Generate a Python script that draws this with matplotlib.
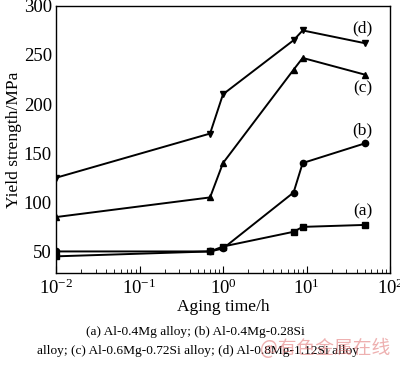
import matplotlib
matplotlib.use('Agg')
import matplotlib.pyplot as plt
from matplotlib.ticker import LogLocator, NullFormatter

plt.rcParams['font.family'] = ['Liberation Serif', 'DejaVu Serif']
plt.rcParams['mathtext.fontset'] = 'stix'

# ---------- Data ----------
t_a = [0.01, 0.7, 1.0, 7, 9, 50]
ys_a = [45, 50, 55, 70, 75, 77]

t_b = [0.01, 0.7, 1.0, 7, 9, 50]
ys_b = [50, 50, 53, 110, 140, 160]

t_c = [0.01, 0.7, 1.0, 7, 9, 50]
ys_c = [85, 105, 140, 235, 247, 230]

t_d = [0.01, 0.7, 1.0, 7, 9, 50]
ys_d = [125, 170, 210, 265, 275, 262]

series = [
    ('(a)', t_a, ys_a, 's', 91),
    ('(b)', t_b, ys_b, 'o', 173),
    ('(c)', t_c, ys_c, '^', 216),
    ('(d)', t_d, ys_d, 'v', 277),
]

fig = plt.figure(figsize=(4.0, 3.67), dpi=100)
ax = fig.add_axes([0.14, 0.256, 0.835, 0.728])

for tag, t, ys, mk, label_y in series:
    ax.plot(t, ys, color='black', linewidth=1.4, marker=mk, markersize=4.5)
    ax.text(47, label_y, tag, ha='center', va='center', fontsize=12.5)

ax.set_xscale('log')
ax.set_xlim(1e-2, 1e2)
ax.set_ylim(28, 300)
ax.set_yticks([50, 100, 150, 200, 250, 300])
ax.xaxis.set_major_locator(LogLocator(base=10, numticks=10))
ax.xaxis.set_minor_locator(LogLocator(base=10, subs=range(2, 10), numticks=20))
ax.xaxis.set_minor_formatter(NullFormatter())
ax.tick_params(axis='both', which='both', direction='in', labelsize=13.5)
ax.tick_params(axis='y', which='major', length=0, pad=3)
ax.tick_params(axis='x', which='major', length=5, pad=4)
ax.tick_params(axis='x', which='minor', length=3)
for sp in ax.spines.values():
    sp.set_linewidth(1.0)

ax.set_xlabel('Aging time/h', fontsize=12.5, labelpad=1)
ax.set_ylabel('Yield strength/MPa', fontsize=12.5, labelpad=1)

fig.text(0.488, 0.096, '(a) Al-0.4Mg alloy; (b) Al-0.4Mg-0.28Si',
         ha='center', va='center', fontsize=9.6)
fig.text(0.495, 0.043, 'alloy; (c) Al-0.6Mg-0.72Si alloy; (d) Al-0.8Mg-1.12Si alloy',
         ha='center', va='center', fontsize=9.6)
# watermark that sits over the caption in the reference
fig.text(0.975, 0.05, '@有色金属在线', ha='right', va='center', fontsize=13.5,
         color='#e07070', alpha=0.55,
         family=['Noto Sans CJK SC', 'DejaVu Sans'])

fig.savefig('out.png', dpi=100)
